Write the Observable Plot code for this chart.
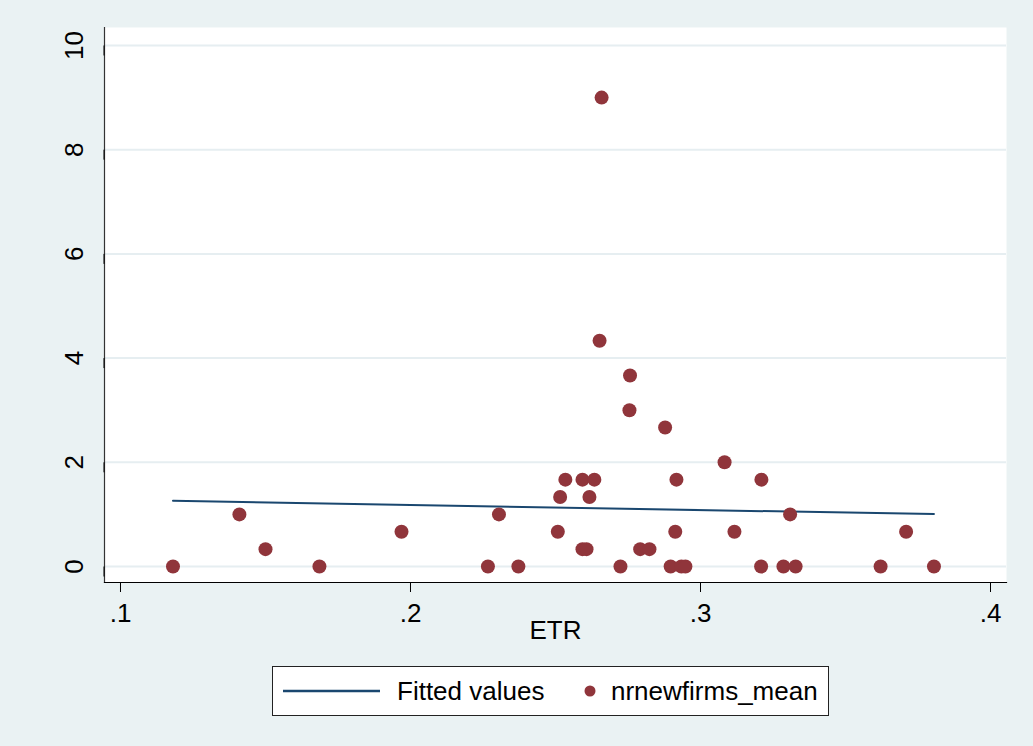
<!DOCTYPE html>
<html>
<head>
<meta charset="utf-8">
<script src="https://cdn.jsdelivr.net/npm/d3@7"></script>
<script src="https://cdn.jsdelivr.net/npm/@observablehq/plot@0.6"></script>
<style>
  html, body { margin: 0; padding: 0; background: #EAF2F3; }
  #wrap { position: relative; width: 1033px; height: 746px; overflow: hidden; font-family: "Liberation Sans", Arial, sans-serif; }
  #legend { position: absolute; left: 272px; top: 666px; width: 555px; height: 48px; background: #fff; border: 1px solid #222; box-sizing: content-box; }
  #legend .item { position: absolute; top: 0; height: 48px; display: flex; align-items: center; font-size: 26px; color: #000; }
</style>
</head>
<body>
<div id="wrap"></div>
<script>
// ---- data ----
const etr = [0.1181, 0.1410, 0.1500, 0.1686, 0.1969, 0.2267, 0.2305, 0.2372, 0.2508, 0.2516,
             0.2534, 0.2593, 0.2593, 0.2607, 0.2617, 0.2634, 0.2652, 0.2659, 0.2724, 0.2757,
             0.2755, 0.2792, 0.2824, 0.2878, 0.2897, 0.2913, 0.2917, 0.2934, 0.2948, 0.3083,
             0.3117, 0.3209, 0.3210, 0.3286, 0.3309, 0.3328, 0.3621, 0.3709, 0.3805];
const nrnewfirmsMean = [0, 1, 0.333, 0, 0.667, 0, 1, 0, 0.667, 1.333,
                        1.667, 1.667, 0.333, 0.333, 1.333, 1.667, 4.333, 9, 0, 3.667,
                        3, 0.333, 0.333, 2.667, 0, 0.667, 1.667, 0, 0, 2,
                        0.667, 0, 1.667, 0, 1, 0, 0, 0.667, 0];
const fitEtr = [0.1181, 0.3805];
const fitValues = [1.26, 1.006];
const xTicks = [0.1, 0.2, 0.3, 0.4];
const xTickLabels = [".1", ".2", ".3", ".4"];
const yTicks = [0, 2, 4, 6, 8, 10];
const yTickLabels = ["0", "2", "4", "6", "8", "10"];
const xLabel = "ETR";
const legendLabels = ["Fitted values", "nrnewfirms_mean"];

const points = etr.map((x, i) => ({x, y: nrnewfirmsMean[i]}));
const fit = fitEtr.map((x, i) => ({x, y: fitValues[i]}));

const navy = "#1A476F";
const maroon = "#90353B";
const bg = "#EAF2F3";

const chart = Plot.plot({
  width: 1033,
  height: 746,
  marginLeft: 104,
  marginRight: 27,
  marginTop: 27,
  marginBottom: 164,
  style: { background: bg, fontFamily: "'Liberation Sans', Arial, sans-serif", fontSize: "26px", color: "#000" },
  x: { domain: [0.094483, 0.405517] },
  y: { domain: [-0.307, 10.345] },
  marks: [
    Plot.frame({ fill: "#fff", stroke: null }),
    Plot.ruleY(yTicks, { stroke: "#E6EEF1", strokeWidth: 2 }),
    Plot.frame({ anchor: "left", stroke: "#333", strokeWidth: 1.2 }),
    Plot.frame({ anchor: "bottom", stroke: "#000", strokeWidth: 1.2 }),
    Plot.axisX({
      ticks: xTicks,
      tickFormat: (d, i) => xTickLabels[xTicks.indexOf(d)],
      tickSize: 10,
      tickPadding: 11,
      fontSize: 26,
      label: null,
      stroke: "#000"
    }),
    Plot.axisY({
      ticks: yTicks,
      tickFormat: d => yTickLabels[yTicks.indexOf(d)],
      tickSize: 10,
      tickPadding: 20,
      rotate: -90,
      textAnchor: "middle",
      fontSize: 26,
      label: null,
      stroke: "#000"
    }),
    Plot.text([xLabel], { frameAnchor: "bottom", dy: 56, text: d => d, fontSize: 26, fill: "#000" }),
    Plot.line(fit, { x: "x", y: "y", stroke: navy, strokeWidth: 2 }),
    Plot.dot(points, { x: "x", y: "y", r: 7, fill: maroon, stroke: null })
  ]
});

const wrap = document.getElementById("wrap");
wrap.appendChild(chart);

// legend (HTML, below plot area)
const legend = document.createElement("div");
legend.id = "legend";
legend.innerHTML = `
  <div class="item" style="left:10px;">
    <svg width="98" height="10"><line x1="0" x2="97" y1="5" y2="5" stroke="${navy}" stroke-width="2.4"/></svg>
  </div>
  <div class="item" style="left:124px;">${legendLabels[0]}</div>
  <div class="item" style="left:310px;">
    <svg width="14" height="14"><circle cx="7" cy="7" r="5.5" fill="${maroon}"/></svg>
  </div>
  <div class="item" style="left:338px;">${legendLabels[1]}</div>
`;
wrap.appendChild(legend);
chart.style.position = "absolute";
chart.style.left = "0";
chart.style.top = "0";
</script>
</body>
</html>
